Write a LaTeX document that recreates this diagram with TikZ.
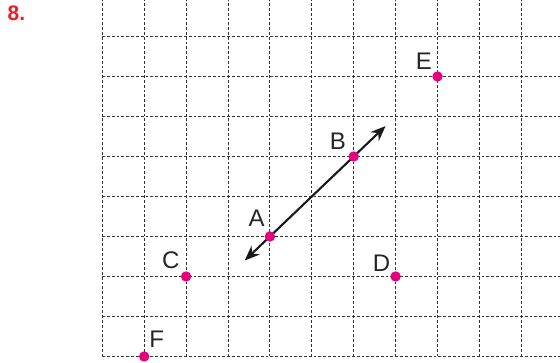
\documentclass[tikz,border=0pt]{standalone}
\usepackage{fontspec}
\setmainfont{Liberation Sans}
\usetikzlibrary{positioning,calc,arrows.meta}
\definecolor{ptpink}{RGB}{230,0,126}
\definecolor{numred}{RGB}{237,28,36}

\begin{document}
\begin{tikzpicture}[
      x=41.9pt, y=40pt,
      every node/.style={inner sep=0pt},
      gridln/.style={black!80, line width=0.9pt, dash pattern=on 2.8pt off 2pt},
      dot/.style={circle, fill=ptpink, minimum size=10.4pt},
      lbl/.style={font=\fontsize{24}{26}\selectfont, text=black!85},
      dblarrow/.style={{Stealth[length=15pt, width=12pt]}-{Stealth[length=15pt, width=12pt]},
                       line width=2.1pt, draw=black!90},
  ]
    \useasboundingbox (-102.3pt,-6.5pt) rectangle (457.7pt,356.5pt);

    % dotted grid paper
    \draw[gridln, step=1] (0,0) grid (10.92,8.91);

    \node[font=\fontsize{21}{24}\selectfont\bfseries, text=numred] (num) at (-85.8pt,343.5pt) {8.};

    \coordinate (A) at (4,3);
    \coordinate (B) at (6,5);
    \coordinate (C) at (2,2);
    \coordinate (D) at (7,2);
    \coordinate (E) at (8,7);
    \coordinate (F) at (1,0);

    % line through A and B
    \coordinate (tipdn) at ($(A)!-0.3!(B)$);
    \coordinate (tipup) at ($(A)!1.38!(B)$);
    \draw[dblarrow] (tipdn) -- (tipup);

    \node[dot] (dA) at (A) {};
    \node[dot] (dB) at (B) {};
    \node[dot] (dC) at (C) {};
    \node[dot] (dD) at (D) {};
    \node[dot] (dE) at (E) {};
    \node[dot] (dF) at (F) {};

    \node[lbl, xshift=-13.3pt, yshift=18.5pt] (labA) at (A) {A};
    \node[lbl, xshift=-15.7pt, yshift=14.8pt] (labB) at (B) {B};
    \node[lbl, xshift=-15.3pt, yshift=15.8pt] (labC) at (C) {C};
    \node[lbl, xshift=-14pt,   yshift=13pt]   (labD) at (D) {D};
    \node[lbl, xshift=-13.6pt, yshift=15.7pt] (labE) at (E) {E};
    \node[lbl, xshift=12.5pt,  yshift=17.2pt] (labF) at (F) {F};
  \end{tikzpicture}
\end{document}
